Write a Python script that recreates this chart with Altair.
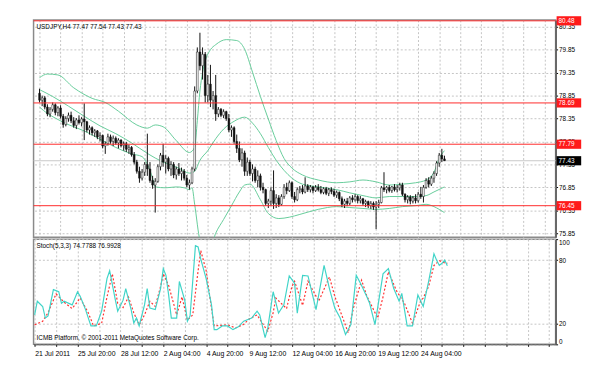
import altair as alt
import pandas as pd

# ---------------- data ----------------
O = [78.90,78.75,78.80,78.60,78.45,78.55,78.65,78.48,78.58,78.40,78.22,78.35,78.42,78.30,78.20,78.32,78.26,78.34,78.28,78.10,
     78.15,78.04,78.08,77.95,77.98,77.75,77.80,77.95,77.85,77.92,77.82,77.88,77.76,77.80,77.68,77.72,77.56,77.40,77.20,77.05,
     77.18,77.35,77.25,77.00,76.90,76.98,77.30,77.55,77.40,77.48,77.25,77.35,77.12,77.25,77.15,77.20,77.05,76.90,76.95,77.25,
     78.95,79.80,79.50,79.75,78.85,79.10,78.75,78.85,78.45,78.55,78.42,78.50,78.35,78.10,78.15,77.85,77.70,77.45,77.60,77.20,
     77.40,77.15,77.25,77.00,77.10,76.85,76.80,76.50,76.55,76.78,76.50,76.62,76.48,76.65,76.85,76.78,76.95,76.65,76.58,76.80,
     76.82,76.75,76.88,76.80,76.86,76.78,76.85,76.80,76.74,76.82,76.72,76.80,76.76,76.68,76.74,76.60,76.48,76.55,76.50,76.62,
     76.58,76.65,76.56,76.60,76.50,76.54,76.45,76.50,76.42,76.48,76.52,76.84,76.80,76.85,76.78,76.86,76.80,76.84,76.90,76.70,
     76.58,76.64,76.55,76.62,76.56,76.70,76.65,76.85,77.00,76.92,77.05,77.15,77.38,77.55,77.47]
H = [79.00,78.85,78.84,78.66,78.60,78.70,78.68,78.62,78.64,78.45,78.40,78.48,78.50,78.38,78.36,78.42,78.38,78.68,78.30,78.20,
     78.18,78.12,78.10,78.05,78.00,77.85,78.02,78.00,77.98,77.96,77.92,77.90,77.85,77.84,77.78,77.75,77.62,77.45,77.30,77.25,
     77.40,78.02,77.40,77.10,77.05,77.35,77.60,77.80,77.55,77.52,77.42,77.40,77.30,77.38,77.28,77.25,77.12,77.02,77.30,79.05,
     79.90,80.22,79.90,79.80,79.30,79.52,78.95,79.30,78.60,78.58,78.55,78.52,78.45,78.20,78.18,78.00,77.85,77.70,77.65,77.50,
     77.45,77.35,77.30,77.22,77.15,76.95,76.82,76.60,76.85,77.22,76.70,76.68,76.70,76.92,76.95,77.00,76.98,76.75,76.85,76.88,
     76.90,77.07,76.92,76.90,76.88,76.90,76.92,76.88,76.85,76.86,76.84,76.85,76.82,76.78,76.76,76.65,76.60,76.62,76.66,76.68,
     76.70,76.68,76.66,76.62,76.58,76.56,76.55,76.54,76.55,76.58,76.88,77.18,76.88,76.90,76.88,76.92,76.90,76.95,76.95,76.72,
     76.68,76.68,76.66,76.70,76.75,76.86,76.90,77.05,77.07,77.10,77.20,77.42,77.60,77.69,77.54]
L = [78.70,78.62,78.55,78.40,78.38,78.50,78.42,78.40,78.35,78.15,78.18,78.28,78.25,78.15,78.12,78.22,78.18,77.88,78.05,78.00,
     77.98,77.95,77.90,77.85,77.70,77.58,77.76,77.80,77.75,77.78,77.70,77.72,77.65,77.62,77.58,77.52,77.35,77.15,76.95,77.00,
     77.10,77.10,76.95,76.82,76.30,76.95,77.22,77.30,77.15,77.20,77.10,77.05,77.02,77.10,77.00,77.00,76.85,76.80,76.92,77.20,
     78.90,79.40,79.20,78.70,78.70,78.60,78.55,78.30,78.38,78.38,78.36,78.30,78.05,77.95,77.80,77.60,77.40,77.30,77.10,77.10,
     77.10,76.98,76.95,76.85,76.78,76.72,76.45,76.40,76.45,76.38,76.40,76.42,76.45,76.60,76.70,76.75,76.60,76.52,76.55,76.72,
     76.70,76.72,76.75,76.74,76.72,76.75,76.76,76.70,76.70,76.68,76.66,76.70,76.64,76.62,76.55,76.42,76.40,76.44,76.46,76.52,
     76.54,76.50,76.50,76.45,76.42,76.40,76.38,76.36,75.94,76.40,76.50,76.75,76.72,76.74,76.73,76.76,76.74,76.78,76.66,76.52,
     76.50,76.48,76.50,76.50,76.52,76.60,76.52,76.82,76.85,76.88,76.95,77.10,77.30,77.40,77.43]
C = [78.75,78.80,78.60,78.45,78.55,78.65,78.48,78.58,78.40,78.22,78.35,78.42,78.30,78.20,78.32,78.26,78.34,78.28,78.10,78.15,
     78.04,78.08,77.95,77.98,77.75,77.80,77.95,77.85,77.92,77.82,77.88,77.76,77.80,77.68,77.72,77.56,77.40,77.20,77.05,77.18,
     77.35,77.25,77.00,76.90,76.98,77.30,77.55,77.40,77.48,77.25,77.35,77.12,77.25,77.15,77.20,77.05,76.90,76.95,77.25,78.95,
     79.80,79.50,79.75,78.85,79.10,78.75,78.85,78.45,78.55,78.42,78.50,78.35,78.10,78.15,77.85,77.70,77.45,77.60,77.20,77.40,
     77.15,77.25,77.00,77.10,76.85,76.80,76.50,76.55,76.78,76.50,76.62,76.48,76.65,76.85,76.78,76.95,76.65,76.58,76.80,76.82,
     76.75,76.88,76.80,76.86,76.78,76.85,76.80,76.74,76.82,76.72,76.80,76.76,76.68,76.74,76.60,76.48,76.55,76.50,76.62,76.58,
     76.65,76.56,76.60,76.50,76.54,76.45,76.50,76.42,76.48,76.52,76.84,76.80,76.85,76.78,76.86,76.80,76.84,76.90,76.70,76.58,
     76.64,76.55,76.62,76.56,76.70,76.65,76.85,77.00,76.92,77.05,77.15,77.38,77.55,77.47,77.43]
BAR = list(range(len(C)))

UB_I = [0,3,7,13,20,25,30,37,41,44,47,52,57,59,60,61,62,63,65,67,71,75,78,81,84,87,90,93,96,100,106,113,118,123,128,133,138,143,147,150,152,154]
UB_V = [79.24,79.32,79.30,79.02,78.79,78.70,78.51,78.21,78.14,78.21,78.17,77.87,77.61,77.72,78.30,78.95,79.35,79.60,79.85,79.96,80.07,80.05,79.86,79.36,78.83,78.34,77.87,77.48,77.27,77.12,77.01,76.95,76.97,77.01,76.97,76.90,76.92,76.95,77.01,77.18,77.48,77.65]
MB_I = [0,5,11,17,23,29,35,41,47,53,57,59,61,64,67,70,74,78,81,84,87,90,93,96,100,106,113,118,123,128,133,138,143,147,150,154]
MB_V = [78.98,78.83,78.62,78.40,78.19,78.02,77.82,77.59,77.40,77.27,77.16,77.20,77.44,77.65,77.91,78.12,78.29,78.38,78.25,78.02,77.72,77.44,77.22,77.05,76.92,76.86,76.80,76.73,76.67,76.62,76.65,76.65,76.65,76.67,76.75,76.86]
LB_I = [0,3,6,10,17,23,29,35,39,41,43,44,48,52,55,57,58,59,61,63,65,67,70,73,76,78,80,84,87,91,95,99,106,113,118,123,128,133,138,143,147,150,152,154]
LB_V = [78.60,78.46,78.36,78.24,78.08,77.90,77.72,77.58,77.52,77.35,77.05,76.86,76.84,76.86,76.84,76.80,76.84,76.48,75.70,75.50,75.55,75.85,76.15,76.45,76.75,76.90,76.92,76.58,76.28,76.17,76.20,76.26,76.37,76.43,76.41,76.39,76.37,76.39,76.43,76.45,76.48,76.43,76.37,76.30]

K_I = [0,1,3,4,5,7,9,10,11,14,16,17,19,21,23,25,27,28,30,31,33,34,36,37,38,39,41,42,43,45,47,48,49,50,51,53,54,56,57,58,60,61,62,64,66,67,68,70,72,74,76,78,81,83,84,86,87,89,91,93,95,97,98,100,102,105,108,110,112,114,116,118,120,122,124,125,127,130,132,134,136,137,139,141,143,145,147,149,150,151,152,153,154]
K_V = [28,41,36,25,27,52,50,39,41,37.5,50,45.6,33,17.5,17.5,31.5,62.5,70,43.8,31.5,42,53,33,20.3,25,17.5,37.5,53,34.4,33,53,72,65.6,47,25,25,59.7,42,22,27,93.7,92.5,81,62.5,37.5,14,14,17.5,17.5,14,16.6,22,25,31.5,28,6.3,15.6,50,29.7,37.5,65,58,29.7,65.6,65,33,75,53,34.4,25,9.4,18.7,65.6,56,45,39,18.7,67,72,53,41,48.5,17.5,17.5,47,36,59.7,86,80,75,77,80,74.78]
D_I = [0,3,5,8,11,14,17,20,22,25,27,29,31,33,35,37,39,41,43,45,47,48,50,53,55,57,59,61,62,64,66,67,72,75,78,80,83,85,87,89,90,94,96,97,100,102,106,110,112,115,117,119,122,124,128,130,132,135,138,141,144,145,147,149,151,153,154]
D_V = [18.5,22,30,48,40,34,44,30,17.5,20,45,67,39,35,45,30,18.5,28,41,36,55,67,56,28,45,23,28,70,89,70,34,17.5,18.5,15.6,19,24,28,20,12.5,30,44,34,55,60,37,60,41,64,45.6,25,11,35,61,45.6,25,45,69,51,39,20,41,44,55,75,79.5,77.5,76.99]

PRICE_TICKS = [80.35, 79.85, 79.35, 78.85, 78.35, 77.85, 77.35, 76.85, 76.35, 75.85]
RED_LEVELS = [80.48, 78.69, 77.79, 76.45]
LAST_PRICE = [77.43]
STOCH_TICKS = [100, 80, 20, 0]
X_LABELS = ["21 Jul 2011", "25 Jul 20:00", "28 Jul 12:00", "2 Aug 04:00", "4 Aug 20:00",
            "9 Aug 12:00", "12 Aug 04:00", "16 Aug 20:00", "19 Aug 12:00", "24 Aug 04:00"]
HEADER = "USDJPY,H4  77.47 77.54 77.43 77.43"
STOCH_HEADER = "Stoch(5,3,3) 74.7788 76.9928"
FOOTER = "ICMB Platform, \u00a9 2001-2011 MetaQuotes Software Corp."

# ---------------- frames ----------------
candles = pd.DataFrame({"i": BAR, "open": O, "high": H, "low": L, "close": C})
bands = pd.concat([
    pd.DataFrame({"i": UB_I, "v": UB_V, "band": "upper"}),
    pd.DataFrame({"i": MB_I, "v": MB_V, "band": "middle"}),
    pd.DataFrame({"i": LB_I, "v": LB_V, "band": "lower"}),
])
levels = pd.DataFrame({"p": RED_LEVELS, "label": [f"{v:.2f}" for v in RED_LEVELS]})
last = pd.DataFrame({"p": LAST_PRICE, "label": [f"{v:.2f}" for v in LAST_PRICE]})
kdf = pd.DataFrame({"i": K_I, "k": K_V})
ddf = pd.DataFrame({"i": D_I, "d": D_V})

W, H1, H2 = 531, 221, 107
FONT = "Liberation Sans"
FS = 6.5
GRID = "#c4c4c4"

xscale = alt.Scale(domain=[-0.4, 194.4], nice=False, zero=False)
pscale = alt.Scale(domain=[75.764, 80.50], nice=False, zero=False)
sscale = alt.Scale(domain=[0, 100], nice=False, zero=False)

grid_vals = list(range(0, 195, 8))
xaxis_main = alt.Axis(values=grid_vals, labels=False, ticks=False, domain=False, title=None,
                      grid=True, gridDash=[2, 2], gridColor=GRID, zindex=0)
yaxis_main = alt.Axis(orient="right", values=PRICE_TICKS, format=".2f", title=None,
                      grid=True, gridDash=[2, 2], gridColor=GRID, labelFont=FONT, labelFontSize=FS,
                      labelColor="#000", tickSize=2, tickColor="#000", labelPadding=1,
                      domainColor="#555", domainWidth=1.5, zindex=0)

arr = "[" + ",".join("'" + s + "'" for s in X_LABELS) + "]"
xaxis_stoch = alt.Axis(values=grid_vals, title=None, grid=True, gridDash=[2, 2], gridColor=GRID,
                       labelExpr=f"datum.value % 16 == 0 ? {arr}[datum.value / 16] : ''",
                       labelAlign="left", labelFont=FONT, labelFontSize=FS + 0.5, labelColor="#000",
                       tickSize=2, tickColor="#000", labelPadding=3, domainColor="#555",
                       labelOverlap=False, labelBound=False, zindex=0)
yaxis_stoch = alt.Axis(orient="right", values=STOCH_TICKS, title=None, grid=True, gridDash=[2, 2],
                       gridColor=GRID, labelFont=FONT, labelFontSize=FS, labelColor="#000",
                       tickSize=2, tickColor="#000", labelPadding=1, labelFlush=True,
                       domainColor="#555", domainWidth=1.5, zindex=0)


def X(f, axis=xaxis_main):
    return alt.X(f, type="quantitative", scale=xscale, axis=axis)


def Y(f):
    return alt.Y(f, type="quantitative", scale=pscale, axis=yaxis_main)


def YS(f):
    return alt.Y(f, type="quantitative", scale=sscale, axis=yaxis_stoch)


base_c = alt.Chart(candles)
wicks = base_c.mark_rule(color="#111", strokeWidth=1).encode(x=X("i"), y=Y("low"), y2="high")
bodies = base_c.mark_bar(size=1.8, stroke="#111", strokeWidth=0.5).encode(
    x=X("i"), y=Y("open"), y2="close",
    fill=alt.condition("datum.close >= datum.open", alt.value("#ffffff"), alt.value("#111111")))

band_lines = alt.Chart(bands).mark_line(color="#66cc9a", strokeWidth=1, clip=True,
                                        interpolate="monotone").encode(
    x=X("i"), y=Y("v"), detail="band:N")

red_rules = alt.Chart(levels).mark_rule(color="#ff2a2a", strokeWidth=1).encode(y=Y("p"))
last_rule = alt.Chart(last).mark_rule(color="#c8c8c8", strokeWidth=1).encode(y=Y("p"))

red_boxes = alt.Chart(levels).transform_calculate(
    lo="datum.p - 0.1", hi="datum.p + 0.1").mark_rect(color="#ff1a1a").encode(
    x=alt.value(W + 1), x2=alt.value(W + 26), y=Y("lo:Q"), y2="hi:Q")
red_text = alt.Chart(levels).mark_text(color="#ffffff", align="left", baseline="middle",
                                       font=FONT, fontSize=FS).encode(
    x=alt.value(W + 3), y=Y("p"), text="label:N")
last_box = alt.Chart(last).transform_calculate(
    lo="datum.p - 0.1", hi="datum.p + 0.1").mark_rect(color="#000000").encode(
    x=alt.value(W + 1), x2=alt.value(W + 26), y=Y("lo:Q"), y2="hi:Q")
last_text = alt.Chart(last).mark_text(color="#ffffff", align="left", baseline="middle",
                                      font=FONT, fontSize=FS).encode(
    x=alt.value(W + 3), y=Y("p"), text="label:N")

header = alt.Chart(pd.DataFrame({"t": [HEADER]})).mark_text(
    align="left", baseline="middle", font=FONT, fontSize=FS, color="#000").encode(
    x=alt.value(3), y=alt.value(7), text="t:N")

main = alt.layer(last_rule, band_lines, wicks, bodies, red_rules, red_boxes, red_text,
                 last_box, last_text, header).properties(width=W, height=H1)

kline = alt.Chart(kdf).mark_line(color="#40d4c8", strokeWidth=1.2).encode(
    x=X("i", xaxis_stoch), y=YS("k"))
dline = alt.Chart(ddf).mark_line(color="#ff3030", strokeWidth=1.2, strokeDash=[2, 2]).encode(
    x=X("i", xaxis_stoch), y=YS("d"))
s_head = alt.Chart(pd.DataFrame({"t": [STOCH_HEADER]})).mark_text(
    align="left", baseline="middle", font=FONT, fontSize=FS, color="#000").encode(
    x=alt.value(3), y=alt.value(7), text="t:N")
s_foot = alt.Chart(pd.DataFrame({"t": [FOOTER]})).mark_text(
    align="left", baseline="middle", font=FONT, fontSize=FS, color="#000").encode(
    x=alt.value(3), y=alt.value(H2 - 6), text="t:N")

stoch = alt.layer(dline, kline, s_head, s_foot).properties(width=W, height=H2)

chart = alt.vconcat(main, stoch, spacing=2, bounds="flush").properties(
    padding={"left": 23, "top": 4, "right": 10, "bottom": 10},
    background="#ffffff",
).configure_view(stroke="#8a8a8a", strokeWidth=1.5)

chart.save("out.html", embed_options={"renderer": "svg", "actions": False})
